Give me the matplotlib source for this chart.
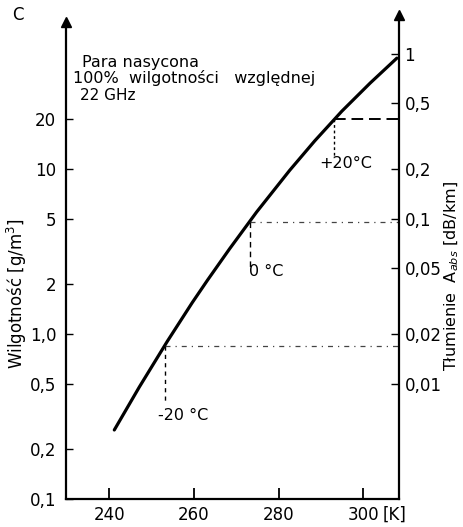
import numpy as np
import matplotlib.pyplot as plt
from matplotlib.ticker import FixedLocator, NullLocator

# saturated water vapour density vs. temperature
temp_k = [241.2, 247.1, 253.7, 259.6, 263.2, 268.4, 274.8, 282.6, 288.5, 294.9, 301.6, 307.9]
humidity = [0.262, 0.477, 0.902, 1.55, 2.12, 3.28, 5.49, 9.82, 14.8, 22.4, 33.2, 47.0]

# marked temperatures (K) and their humidities
mark_t = [253.15, 273.15, 293.15]
mark_h = [0.85, 4.8, 20.0]
mark_labels = ['-20 °C', '0 °C', '+20°C']

left_ticks = [0.1, 0.2, 0.5, 1.0, 2, 5, 10, 20]
left_labels = ['0,1', '0,2', '0,5', '1,0', '2', '5', '10', '20']
right_ticks = [0.01, 0.02, 0.05, 0.1, 0.2, 0.5, 1]
right_labels = ['0,01', '0,02', '0,05', '0,1', '0,2', '0,5', '1']
x_ticks = [240, 260, 280, 300]

# attenuation at 22 GHz per g/m^3
k_att = 0.02

W, H = 463, 527
fig = plt.figure(figsize=(W / 100, H / 100), dpi=100)
ax = fig.add_axes([66 / W, 28 / H, 333 / W, 484 / H])

def px(x, y):
    return x / W, 1 - y / H

xmin, xmax = 229.8, 308.4
ymin, ymax = 0.1, 85.8
ax.set_xlim(xmin, xmax)
ax.set_yscale('log')
ax.set_ylim(ymin, ymax)

ax.plot(temp_k, humidity, color='black', lw=2.3, solid_capstyle='round')

# guide lines from the marked points
t0, t1, t2 = mark_t
h0, h1, h2 = mark_h
ax.plot([t0, xmax], [h0, h0], color='#444444', lw=0.9, dashes=(4, 4, 1, 4))
ax.plot([t0, t0], [h0, h0 * 0.45], color='black', lw=1.0, dashes=(3, 3))
ax.plot([t1, xmax], [h1, h1], color='#444444', lw=0.9, dashes=(4, 4, 1, 4))
ax.plot([t1, t1], [h1, h1 * 0.52], color='black', lw=1.0, dashes=(4, 3))
ax.plot([t2, xmax], [h2, h2], color='black', lw=1.4, dashes=(6, 3))
ax.plot([t2, t2], [h2, h2 * 0.58], color='black', lw=1.0, dashes=(2, 2))

fs = 11.5
fig.text(*px(183, 415), mark_labels[0], ha='center', va='center', fontsize=fs)
fig.text(*px(266, 271), mark_labels[1], ha='center', va='center', fontsize=fs)
fig.text(*px(346, 163), mark_labels[2], ha='center', va='center', fontsize=fs)

for s in ['top', 'right']:
    ax.spines[s].set_visible(False)
for s in ['left', 'bottom']:
    ax.spines[s].set_linewidth(1.6)
ax.spines['left'].set_bounds(ymin, 77.8)

ax.xaxis.set_major_locator(FixedLocator(x_ticks))
ax.xaxis.set_minor_locator(NullLocator())
ax.set_xticklabels(['240', '260', '280', '300'])
ax.tick_params(axis='x', direction='in', length=8, width=1.3, pad=5, labelsize=12)

ax.yaxis.set_major_locator(FixedLocator(left_ticks))
ax.yaxis.set_minor_locator(NullLocator())
ax.set_yticklabels(left_labels)
ax.tick_params(axis='y', direction='in', length=5, width=1.0, pad=7, labelsize=12)

ax.set_ylabel('Wilgotność [g/m$^3$]', fontsize=12)
ax.yaxis.set_label_coords(-(66 - 29) / 333, (499 - 294) / 484)

# right axis: attenuation
ax2 = ax.twinx()
ax2.set_yscale('log')
ax2.set_ylim(ymin * k_att, ymax * k_att)
for s in ['top', 'left', 'bottom']:
    ax2.spines[s].set_visible(False)
ax2.spines['right'].set_linewidth(1.6)
ax2.yaxis.set_major_locator(FixedLocator(right_ticks))
ax2.yaxis.set_minor_locator(NullLocator())
ax2.set_yticklabels(right_labels)
ax2.tick_params(axis='y', direction='in', length=6, width=1.0, pad=4, labelsize=12)
ax2.set_ylabel('Tłumienie  A$_{abs}$ [dB/km]', fontsize=11.5, rotation=90)
ax2.yaxis.set_label_coords(1 + (443 - 399) / 333, (499 - 276) / 484)

# arrowheads on vertical axes
ax.plot([0], [77.8], marker='^', color='black', markersize=7, clip_on=False,
        transform=ax.get_yaxis_transform())
ax2.plot([1], [ymax * k_att], marker='^', color='black', markersize=7, clip_on=False,
         transform=ax2.get_yaxis_transform())

fig.text(*px(383, 515), '[K]', fontsize=12, ha='left', va='center')
fig.text(*px(12, 15), 'C', fontsize=12, ha='left', va='center')

fig.text(*px(82, 62), 'Para nasycona', fontsize=11.5, ha='left', va='center')
fig.text(*px(73, 78), '100%  wilgotności   względnej', fontsize=11.5, ha='left', va='center')
fig.text(*px(80, 95), '22 GHz', fontsize=11, ha='left', va='center')

fig.savefig('out.png', dpi=100)
